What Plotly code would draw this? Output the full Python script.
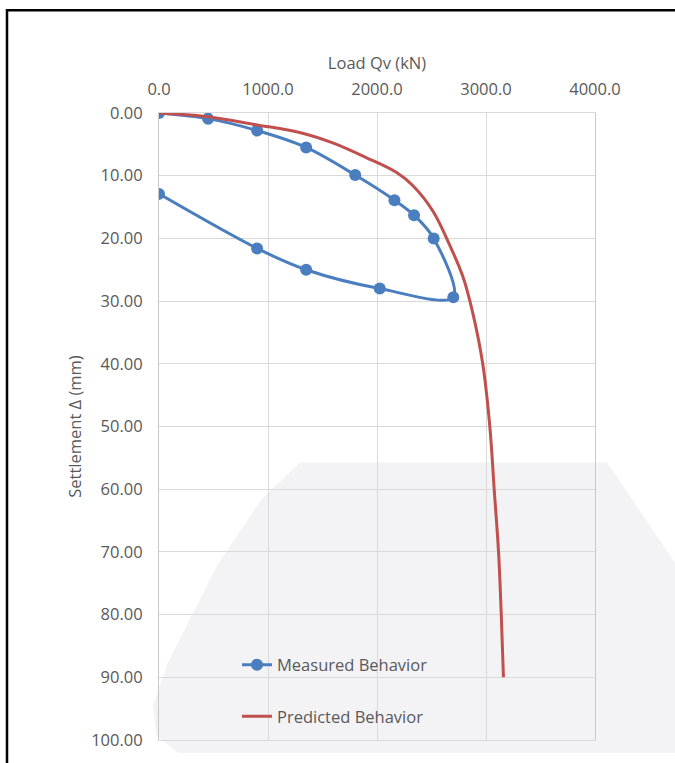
import plotly.graph_objects as go

# Measured behaviour (load in kN, settlement in mm)
measured_load = [0, 450, 900, 1350, 1800, 2160, 2340, 2520, 2700, 2025, 1350, 900, 0]
measured_settlement = [0.0, 0.9, 2.8, 5.5, 9.9, 13.9, 16.3, 20.0, 29.4, 28.0, 25.0, 21.6, 12.9]

# Predicted behaviour
predicted_load = [0, 450, 900, 1290, 1600, 1900, 2180, 2330, 2515, 2665, 2790, 2880,
                  2970, 3035, 3075, 3115, 3140, 3160]
predicted_settlement = [0.0, 0.6, 1.9, 3.1, 4.8, 7.1, 9.5, 11.6, 15.7, 21.0, 26.2, 32.0,
                        40.0, 50.0, 60.0, 70.0, 80.0, 90.0]

x_ticks = [0, 1000, 2000, 3000, 4000]
y_ticks = [0, 10, 20, 30, 40, 50, 60, 70, 80, 90, 100]

BLUE = "#4a7ebf"
RED = "#c0504d"
GRID = "#d9d9d9"
TXT = "#595959"
FONT = "Open Sans"
FS = 16.5

W, H = 675, 763
L, R, T, B = 159, 80, 113, 13
pw, ph = W - L - R, H - T - B


def px(x):
    return (x - L) / pw


def py(y):
    return (H - B - y) / ph


fig = go.Figure()
fig.add_trace(go.Scatter(
    x=measured_load, y=measured_settlement, name="Measured Behavior",
    mode="lines+markers", line=dict(color=BLUE, width=3, shape="spline", smoothing=0.9),
    marker=dict(color=BLUE, size=12), legendgroup="a"))
fig.add_trace(go.Scatter(
    x=predicted_load, y=predicted_settlement, name="Predicted Behavior",
    mode="lines", line=dict(color=RED, width=3, shape="spline", smoothing=1.0),
    legendgroup="b"))

# faint watermark and outer frame
wm = [(300, 468), (607, 468), (675, 570), (675, 763), (178, 763), (156, 745),
      (153, 715), (167, 673), (217, 573), (262, 505)]
path = "M " + " L ".join(f"{px(a):.4f},{py(b):.4f}" for a, b in wm) + " Z"
fig.add_shape(type="path", path=path, xref="paper", yref="paper",
              fillcolor="#f3f3f6", line=dict(width=0), layer="below")
fig.add_shape(type="rect", xref="paper", yref="paper",
              x0=px(7), y0=py(8.5), x1=px(700), y1=py(800),
              line=dict(color="black", width=2.5), fillcolor="rgba(0,0,0,0)", layer="above")

fig.update_layout(
    width=W, height=H,
    margin=dict(l=L, r=R, t=T, b=B),
    paper_bgcolor="white", plot_bgcolor="rgba(0,0,0,0)",
    font=dict(family=FONT, size=FS, color=TXT),
    showlegend=True,
    legend=dict(x=px(237), y=py(656), xanchor="left", yanchor="top",
                bgcolor="rgba(0,0,0,0)", tracegroupgap=27,
                font=dict(family=FONT, size=FS, color=TXT)),
    xaxis=dict(side="top", range=[0, 4000], tickvals=x_ticks, tickformat=".1f",
               showgrid=True, gridcolor=GRID, gridwidth=1, zeroline=False,
               showline=True, linecolor=GRID, mirror=True,
               ticks="", ticklabelstandoff=10,
               tickfont=dict(family=FONT, size=FS, color=TXT),
               title=dict(text="Load Qv (kN)", standoff=3,
                          font=dict(family=FONT, size=FS, color=TXT))),
    yaxis=dict(range=[100, 0], tickvals=y_ticks, tickformat=".2f",
               showgrid=True, gridcolor=GRID, gridwidth=1, zeroline=False,
               showline=True, linecolor="#c8c8c8", mirror=True,
               ticks="", ticklabelstandoff=12,
               tickfont=dict(family=FONT, size=FS, color=TXT),
               title=dict(text="Settlement Δ (mm)", standoff=5,
                          font=dict(family=FONT, size=FS, color=TXT))),
)

fig.write_html("out.html", config={"displayModeBar": False},
               post_script="document.body.style.margin='0px';")
